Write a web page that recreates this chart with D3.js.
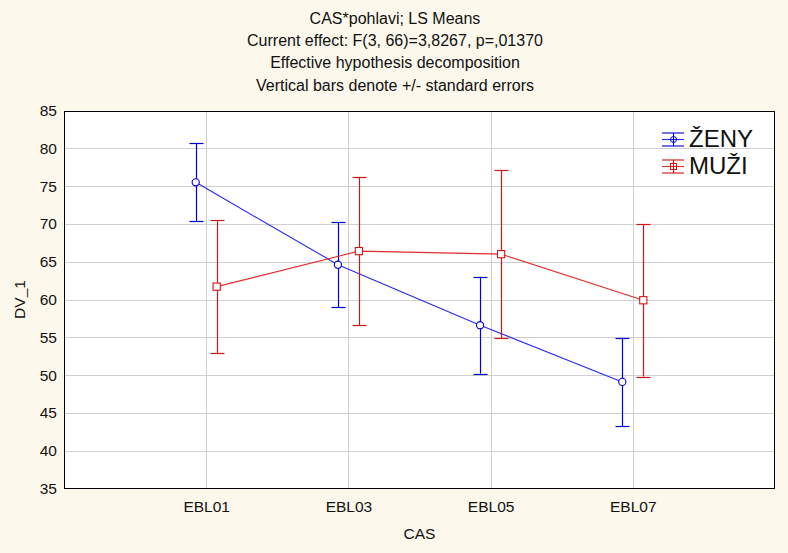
<!DOCTYPE html>
<html><head><meta charset="utf-8">
<script src="https://cdn.jsdelivr.net/npm/d3@7"></script>
<style>
html,body{margin:0;padding:0;background:#fcf8ec;}
svg{display:block;font-family:Arial,"Liberation Sans",sans-serif;}
</style></head>
<body>
<svg id="chart" width="788" height="553"></svg>
<script>
const titleLines = ["CAS*pohlavi; LS Means","Current effect: F(3, 66)=3,8267, p=,01370","Effective hypothesis decomposition","Vertical bars denote +/- standard errors"];
const categories = ["EBL01","EBL03","EBL05","EBL07"];
const seriesNames = ["ŽENY","MUŽI"];
const zenyMeans = [75.5, 64.6, 56.6, 49.1];
const zenySE    = [5.15, 5.6, 6.4, 5.85];
const muziMeans = [61.7, 66.4, 66.0, 59.9];
const muziSE    = [8.8, 9.8, 11.1, 10.1];
const yTicks = [35,40,45,50,55,60,65,70,75,80,85];
const xLabel = "CAS", yLabel = "DV_1";

const svg = d3.select("#chart");
const W = 788, H = 553;
svg.append("rect").attr("width",W).attr("height",H).attr("fill","#fcf8ec");
const L=64, R=775, T=110.5, B=488.5;
const x = d3.scaleLinear().domain([0, categories.length+1]).range([L,R]);
const y = d3.scaleLinear().domain([35,85]).range([B,T]);

// title
svg.append("g").selectAll("text").data(titleLines).join("text")
  .attr("x",395).attr("y",(d,i)=>24+i*22.2).attr("text-anchor","middle")
  .attr("font-size",16).attr("fill","#111").text(d=>d);

// plot bg
svg.append("rect").attr("x",L).attr("y",T).attr("width",R-L).attr("height",B-T).attr("fill","#fff");
// grid
const grid = svg.append("g").attr("stroke","#cfcfcf").attr("stroke-width",1).attr("shape-rendering","crispEdges");
grid.selectAll(".h").data(yTicks.slice(1,-1)).join("line")
  .attr("x1",L).attr("x2",R).attr("y1",d=>Math.round(y(d))+0.5).attr("y2",d=>Math.round(y(d))+0.5);
grid.selectAll(".v").data(categories).join("line")
  .attr("y1",T).attr("y2",B).attr("x1",(d,i)=>Math.round(x(i+1))+0.5).attr("x2",(d,i)=>Math.round(x(i+1))+0.5);

// axes labels
const yAx = svg.append("g").attr("transform",`translate(${L-5},0)`)
  .call(d3.axisLeft(y).tickValues(yTicks).tickSize(0).tickPadding(2));
yAx.select(".domain").remove();
yAx.selectAll("text").attr("font-size",15.5).attr("fill","#111").attr("font-family","Arial, Liberation Sans, sans-serif");
const xAx = svg.append("g").attr("transform",`translate(0,${B+8})`)
  .call(d3.axisBottom(x).tickValues([1,2,3,4]).tickFormat(d=>categories[d-1]).tickSize(0).tickPadding(4));
xAx.select(".domain").remove();
xAx.selectAll("text").attr("font-size",15.5).attr("fill","#111").attr("font-family","Arial, Liberation Sans, sans-serif");

svg.append("text").attr("x",(L+R)/2).attr("y",539).attr("text-anchor","middle").attr("font-size",15.5).attr("fill","#111").text(xLabel);
svg.append("text").attr("transform",`translate(25,${(T+B)/2}) rotate(-90)`).attr("text-anchor","middle").attr("font-size",15.5).attr("fill","#111").text(yLabel);

// series
const series = [
  {name:seriesNames[0], means:zenyMeans, se:zenySE, off:-10.5, bar:"#0000d0", line:"#2828f0", shape:"circle"},
  {name:seriesNames[1], means:muziMeans, se:muziSE, off:10.5, bar:"#d41414", line:"#e42c2c", shape:"square"}
];
const cap = 7;
function marker(g, shape, cx, cy, color){
  if(shape==="circle") g.append("circle").attr("cx",cx).attr("cy",cy).attr("r",3.6).attr("fill","#fff").attr("stroke",color).attr("stroke-width",1.1);
  else g.append("rect").attr("x",cx-3.6).attr("y",cy-3.6).attr("width",7.2).attr("height",7.2).attr("fill","#fff").attr("stroke",color).attr("stroke-width",1.1);
}
series.forEach(s=>{
  const g = svg.append("g");
  const px = (i)=>x(i+1)+s.off;
  g.append("path").datum(s.means).attr("fill","none").attr("stroke",s.line).attr("stroke-width",1.1)
    .attr("d", d3.line().x((d,i)=>px(i)).y(d=>y(d)));
  s.means.forEach((m,i)=>{
    const cx = Math.round(px(i))+0.5;
    const y1 = y(m+s.se[i]), y0 = y(m-s.se[i]);
    g.append("line").attr("x1",cx).attr("x2",cx).attr("y1",y1).attr("y2",y0).attr("stroke",s.bar).attr("stroke-width",1.2);
    [y1,y0].forEach(yy=>g.append("line").attr("x1",cx-cap).attr("x2",cx+cap).attr("y1",Math.round(yy)+0.5).attr("y2",Math.round(yy)+0.5).attr("stroke",s.bar).attr("stroke-width",1.2));
  });
  s.means.forEach((m,i)=>marker(g,s.shape,px(i),y(m),s.bar));
});

// legend
series.forEach((s,k)=>{
  const cy = 139.5 + k*27, x0 = 662, x1 = 684, cx = 673.5;
  const g = svg.append("g");
  g.append("line").attr("x1",x0).attr("x2",x1).attr("y1",cy).attr("y2",cy).attr("stroke",s.line).attr("stroke-width",1.1);
  [cy-6.5, cy+6.5].forEach(yy=>g.append("line").attr("x1",x0).attr("x2",x1).attr("y1",yy).attr("y2",yy).attr("stroke",s.bar).attr("stroke-width",1.1));
  g.append("line").attr("x1",cx).attr("x2",cx).attr("y1",cy-6.5).attr("y2",cy+6.5).attr("stroke",s.bar).attr("stroke-width",1.1);
  if(s.shape==="circle") g.append("circle").attr("cx",cx).attr("cy",cy).attr("r",3).attr("fill","none").attr("stroke",s.bar);
  else g.append("rect").attr("x",cx-3).attr("y",cy-3).attr("width",6).attr("height",6).attr("fill","none").attr("stroke",s.bar);
  g.append("text").attr("x",689).attr("y",cy+7).attr("font-size",24).attr("fill","#111").text(s.name);
});

// border
svg.append("rect").attr("x",L+0.5).attr("y",T+0.5).attr("width",R-L-1).attr("height",B-T-1).attr("fill","none").attr("stroke","#000").attr("stroke-width",1).attr("shape-rendering","crispEdges");
</script>
</body></html>
